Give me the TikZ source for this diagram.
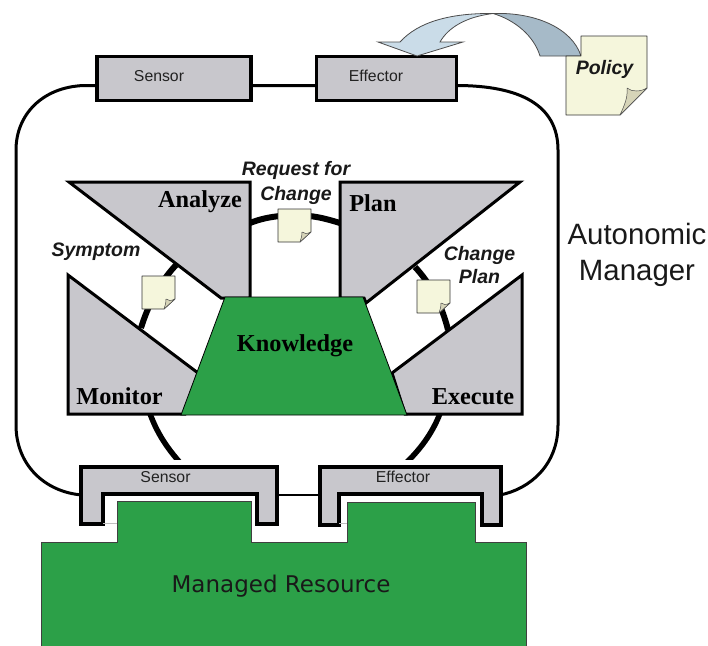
\documentclass[tikz,border=0pt]{standalone}
\usepackage{fontspec}
\setmainfont{Liberation Sans}
\newfontfamily\serifbold[BoldFont=Liberation Serif Bold]{Liberation Serif}
\newfontfamily\dejavu{DejaVu Sans}
\definecolor{boxgray}{HTML}{C8C7CC}
\definecolor{resgreen}{HTML}{2CA048}
\definecolor{notecol}{HTML}{F5F6DC}
\definecolor{foldcol}{HTML}{D6D4B8}
\definecolor{arrlight}{HTML}{CADCE8}
\definecolor{arrdark}{HTML}{A6BAC8}
\definecolor{txtgray}{HTML}{222222}
\tikzset{
  grayshape/.style={draw=black,fill=boxgray,line width=3.4pt,line join=miter,miter limit=4},
  greenshape/.style={draw=black!75,fill=resgreen,line width=1pt,line join=miter},
  wedge/.style={grayshape,line width=3pt},
  ring/.style={draw=black,line width=6pt},
  smalltxt/.style={font=\fontsize{15.8}{18}\selectfont,text=txtgray,inner sep=0pt},
  phase/.style={font=\fontsize{24.3}{26}\selectfont\serifbold\bfseries,inner sep=0pt},
  itlabel/.style={font=\fontsize{19.5}{23}\selectfont\bfseries\itshape,inner sep=0pt,align=center,text=black!90},
  notebody/.style={draw=black!80,fill=notecol,line width=0.7pt,line join=round},
  notefold/.style={draw=black!70,fill=foldcol,line width=0.5pt,line join=round},
}
\begin{document}
\begin{tikzpicture}[x=1pt,y=-1pt]
\useasboundingbox (0,0) rectangle (708,645);
% manager outline
\draw[black,line width=3pt] (320,85.5) -- (96,85.5) -- (84,85.5) .. controls (42,87) and (16,115) .. (16,150) -- (16,425) .. controls (16,465) and (45,492) .. (82,495);
\draw[black,line width=3pt] (456,85.5) .. controls (520,85.5) and (558,105) .. (558,150) -- (558,425) .. controls (558,465) and (530,489) .. (500,495);
\draw[black,line width=2pt] (276,494.5) -- (320,494.5);
% ring arcs
\draw[ring] (250,223) .. controls (260,219) and (270,217) .. (280,216);
\draw[ring] (309,216) .. controls (320,217) and (330,220) .. (340,223);
\draw[ring] (176,265) .. controls (160,282) and (148,305) .. (141,328);
\draw[ring] (415,267) .. controls (430,283) and (442,305) .. (448,330);
\begin{scope}
\clip (100,405) rectangle (480,459);
\draw[ring,line width=5.5pt] (147,405) .. controls (155,430) and (165,446) .. (183,466);
\draw[ring,line width=5.5pt] (443,405) .. controls (435,430) and (422,448) .. (403,466);
\end{scope}
% top boxes
\node[grayshape,minimum width=154pt,minimum height=44pt,inner sep=0pt] (topsensorbox) at (174,78.5) {};
\node[grayshape,minimum width=140pt,minimum height=44pt,inner sep=0pt] (topeffectorbox) at (386.5,78.5) {};
\node[smalltxt] (topsensor) at (159,76) {Sensor};
\node[smalltxt] (topeffector) at (376,76) {Effector};
% arrow
\draw[draw=black!70,fill=arrdark,line width=0.8pt] (493,13.5) .. controls (535,12) and (572,28) .. (581,56) -- (540,56) .. controls (534,36) and (515,20) .. (493,13.5) -- cycle;
\draw[draw=black!70,fill=arrlight,line width=0.8pt] (417,56) -- (378,42) -- (400,42) .. controls (418,22) and (450,13) .. (493,13.5) .. controls (465,17) and (448,28) .. (440,42) -- (463,42) -- cycle;
% policy note
\draw[notebody,line width=0.9pt] (581,36) -- (647,36) -- (647,88) -- (620,115) -- (566,115) -- (566,56) -- (581,56) -- cycle;
\draw[notefold] (647,88) .. controls (640,92) and (632,92) .. (627,88) .. controls (628,98) and (624,106) .. (620,115) -- cycle;
\node[itlabel] (policy) at (604.5,69.5) {Policy};
% phases
\draw[wedge] (69,182) -- (250,182) -- (250,298) -- (225,298) -- (221,298) -- cycle;
\draw[wedge] (68,275) -- (68,414) -- (185,414) -- (198,373) -- cycle;
\draw[wedge] (340,298) -- (340,182) -- (520,182) -- (366,303) -- (364,298) -- cycle;
\draw[wedge] (522,275) -- (522,414) -- (405,414) -- (392,373) -- cycle;
% knowledge
\draw[draw=black,fill=resgreen,line width=0.8pt] (225,297) -- (363,297) -- (407,415) -- (181,415) -- cycle;
\node[phase] (analyze) at (200,201.5) {Analyze};
\node[phase] (plan) at (373,203.5) {Plan};
\node[phase] (monitor) at (119.5,396.5) {Monitor};
\node[phase] (execute) at (473,396.5) {Execute};
\node[phase] (knowledge) at (295,346) {Knowledge};
% small notes
\foreach \nx/\ny/\nm in {278/209/a,142/276/b,417/280/c}{
  \draw[notebody] (\nx,\ny) -- ++(33,0) -- ++(0,23) -- ++(-11,10) -- ++(-22,0) -- cycle;
  \draw[notefold] (\nx+33,\ny+23) .. controls (\nx+29,\ny+25) and (\nx+26,\ny+25) .. (\nx+24,\ny+23) .. controls (\nx+24,\ny+27) and (\nx+23,\ny+30) .. (\nx+22,\ny+33) -- cycle;
}
\node[itlabel,font=\fontsize{19.5}{25}\selectfont\bfseries\itshape] (rfc) at (296,183) {Request for\\Change};
\node[itlabel] (symptom) at (96,252) {Symptom};
\node[itlabel] (cplan) at (479.5,265) {Change\\Plan};
% autonomic manager
\node[font=\fontsize{29.4}{36}\selectfont,align=center,inner sep=0pt,text=black!90] (am) at (637,255) {Autonomic\\Manager};
% managed resource
\draw[greenshape] (41,650) -- (41,542) -- (117,542) -- (117,501) -- (251,501) -- (251,542) -- (347,542) -- (347,502) -- (475,502) -- (475,542) -- (526,542) -- (526,650);
\node[font=\fontsize{23}{26}\selectfont\dejavu,inner sep=0pt,text=black!90] (mr) at (281,586) {Managed Resource};
% bottom sensor/effector
\draw[grayshape] (81,467) -- (277,467) -- (277,524) -- (257,524) -- (257,494) -- (103,494) -- (103,524) -- (81,524) -- cycle;
\draw[grayshape] (320,467) -- (501,467) -- (501,525) -- (482,525) -- (482,494) -- (339,494) -- (339,525) -- (320,525) -- cycle;
\draw[black!25,line width=0.6pt] (103,523) -- (117,523);
\draw[black!25,line width=0.6pt] (339,523) -- (347,523);
\node[smalltxt] (botsensor) at (165.5,477) {Sensor};
\node[smalltxt] (boteffector) at (403,477) {Effector};
\end{tikzpicture}
\end{document}
